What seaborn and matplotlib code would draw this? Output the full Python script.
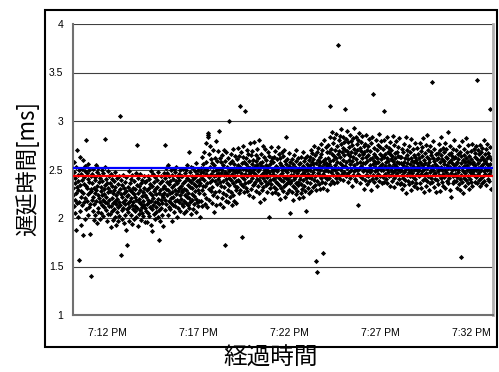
import numpy as np
import pandas as pd
import matplotlib
matplotlib.use("Agg")
import matplotlib.pyplot as plt
from matplotlib.patches import Rectangle
import seaborn as sns

# 遅延時間 (単位 0.01 ms), 1 秒ごと, 1 行 = 1 分 (19:10:05 から)
d1910 = [231, 224, 258, 212, 247, 236, 205, 219, 241, 188, 226, 253, 232, 215, 270, 244, 201, 238, 229, 157,
         216, 249, 263, 234, 207, 222, 245, 193, 228, 251, 239, 213, 260, 182, 226, 242, 217, 235, 199, 248,
         254, 221, 209, 233, 280, 246, 218, 231, 203, 256, 240, 225, 211, 237, 250, 183, 227, 214, 243, 230]
d1911 = [228, 140, 219, 245, 236, 207, 251, 222, 198, 231, 214, 242, 226, 203, 239, 255, 218, 229, 195, 247,
         233, 210, 224, 252, 206, 237, 221, 244, 199, 216, 241, 228, 205, 232, 249, 213, 224, 238, 202, 219,
         246, 230, 211, 225, 253, 281, 217, 234, 208, 240, 222, 197, 236, 215, 248, 227, 204, 231, 243, 212]
d1912 = [219, 236, 204, 228, 245, 212, 191, 233, 221, 207, 240, 226, 198, 215, 238, 209, 229, 247, 201, 218,
         232, 214, 193, 224, 241, 206, 220, 235, 211, 197, 227, 243, 216, 202, 230, 305, 213, 225, 239, 162,
         208, 222, 234, 199, 217, 244, 210, 226, 195, 231, 219, 203, 237, 214, 228, 188, 242, 209, 223, 172]
d1913 = [215, 232, 206, 224, 248, 211, 197, 229, 218, 236, 203, 221, 240, 213, 194, 227, 244, 209, 231, 216,
         225, 199, 238, 212, 230, 207, 222, 246, 201, 219, 234, 275, 210, 226, 192, 241, 217, 204, 233, 220,
         208, 229, 245, 214, 198, 236, 223, 211, 239, 205, 227, 218, 202, 243, 213, 231, 196, 224, 237, 210]
d1914 = [222, 207, 238, 214, 229, 196, 243, 219, 205, 231, 216, 240, 202, 226, 211, 235, 193, 248, 218, 224,
         209, 233, 187, 221, 245, 213, 228, 204, 237, 217, 230, 199, 242, 211, 225, 206, 239, 216, 232, 201,
         220, 247, 208, 177, 226, 214, 236, 197, 229, 219, 243, 210, 224, 203, 238, 215, 231, 192, 222, 246]
d1915 = [233, 226, 275, 219, 241, 208, 252, 230, 214, 237, 224, 246, 203, 229, 255, 218, 235, 211, 243, 226,
         209, 238, 221, 249, 215, 232, 197, 244, 227, 213, 240, 222, 251, 206, 234, 218, 247, 229, 212, 238,
         225, 253, 201, 236, 219, 242, 228, 210, 245, 231, 216, 239, 224, 207, 250, 233, 220, 243, 214, 229]
d1916 = [227, 243, 212, 236, 251, 218, 230, 205, 246, 224, 238, 215, 249, 229, 207, 241, 222, 255, 213, 234,
         226, 268, 210, 239, 221, 247, 232, 216, 253, 204, 237, 225, 243, 219, 231, 252, 209, 240, 223, 235,
         214, 248, 228, 242, 206, 233, 257, 220, 238, 217, 245, 229, 212, 250, 226, 239, 218, 234, 201, 244]
d1917 = [236, 252, 218, 247, 229, 263, 241, 212, 256, 233, 247, 225, 268, 239, 214, 251, 233, 277, 245, 221,
         258, 236, 211, 249, 286, 288, 284, 242, 230, 266, 219, 253, 237, 274, 228, 245, 261, 215, 239, 257,
         232, 248, 270, 224, 243, 206, 255, 238, 262, 227, 250, 213, 244, 279, 235, 259, 222, 246, 269, 240]
d1918 = [243, 228, 290, 251, 237, 262, 214, 246, 233, 258, 221, 249, 265, 238, 226, 255, 211, 244, 270, 232,
         172, 247, 259, 224, 240, 268, 218, 253, 236, 245, 229, 262, 216, 248, 241, 300, 234, 257, 222, 251,
         239, 266, 227, 245, 213, 259, 236, 250, 224, 271, 242, 218, 256, 233, 247, 264, 229, 252, 238, 215]
d1919 = [247, 261, 232, 255, 239, 272, 226, 250, 264, 238, 315, 253, 229, 246, 268, 235, 257, 180, 242, 263,
         233, 251, 274, 240, 227, 258, 245, 310, 236, 262, 249, 231, 256, 270, 243, 228, 253, 266, 237, 248,
         259, 224, 245, 277, 238, 252, 265, 230, 247, 256, 241, 269, 234, 250, 222, 260, 246, 278, 235, 254]
d1920 = [252, 237, 265, 244, 228, 259, 271, 240, 255, 233, 248, 262, 226, 251, 280, 239, 257, 243, 217, 254,
         236, 266, 245, 229, 258, 274, 241, 253, 232, 247, 263, 220, 249, 238, 271, 255, 234, 246, 260, 227,
         250, 242, 268, 236, 253, 201, 247, 264, 231, 256, 244, 239, 259, 273, 235, 250, 226, 262, 248, 240]
d1921 = [245, 258, 232, 263, 240, 251, 227, 269, 237, 254, 243, 230, 261, 248, 236, 273, 225, 252, 241, 266,
         234, 257, 244, 220, 262, 239, 255, 231, 268, 246, 250, 228, 264, 238, 253, 242, 270, 233, 249, 222,
         259, 241, 256, 235, 283, 247, 226, 261, 240, 252, 237, 267, 229, 254, 243, 205, 258, 236, 250, 244]
d1922 = [238, 252, 227, 261, 244, 233, 256, 219, 248, 240, 265, 231, 253, 242, 225, 259, 236, 270, 246, 228,
         250, 237, 262, 234, 256, 221, 249, 243, 181, 257, 240, 226, 263, 235, 251, 245, 230, 268, 239, 254,
         222, 247, 259, 233, 244, 262, 228, 251, 241, 207, 256, 237, 249, 264, 231, 245, 253, 226, 260, 242]
d1923 = [249, 263, 236, 255, 241, 270, 228, 258, 244, 267, 232, 256, 247, 261, 239, 274, 252, 234, 265, 243,
         156, 257, 229, 268, 251, 238, 144, 260, 246, 272, 235, 255, 244, 263, 230, 258, 249, 276, 241, 266,
         253, 237, 270, 245, 259, 231, 164, 248, 256, 280, 242, 261, 236, 273, 250, 257, 240, 268, 254, 229]
d1924 = [262, 248, 275, 256, 241, 268, 235, 315, 259, 283, 247, 271, 253, 238, 266, 289, 244, 260, 277, 251,
         236, 264, 282, 249, 270, 255, 241, 287, 262, 246, 274, 258, 237, 378, 266, 252, 280, 243, 269, 257,
         285, 240, 263, 276, 250, 292, 245, 268, 255, 239, 272, 260, 284, 247, 265, 278, 312, 254, 270, 243]
d1925 = [258, 281, 245, 269, 290, 252, 266, 237, 278, 260, 247, 273, 256, 286, 241, 264, 279, 250, 268, 233,
         275, 259, 244, 282, 263, 248, 271, 293, 255, 240, 267, 252, 284, 238, 261, 276, 249, 270, 257, 213,
         280, 245, 265, 251, 288, 236, 272, 258, 243, 269, 254, 278, 262, 241, 285, 257, 266, 248, 274, 230]
d1926 = [251, 268, 239, 276, 257, 244, 263, 286, 248, 270, 235, 259, 274, 243, 265, 252, 281, 238, 261, 247,
         269, 255, 229, 277, 250, 262, 240, 284, 256, 244, 328, 266, 237, 259, 272, 248, 264, 253, 280, 241,
         257, 270, 233, 262, 249, 275, 245, 258, 287, 252, 238, 266, 254, 273, 243, 261, 250, 279, 236, 264]
d1927 = [256, 242, 271, 249, 263, 237, 280, 310, 254, 266, 245, 258, 274, 240, 262, 251, 283, 236, 268, 247,
         259, 272, 243, 255, 266, 233, 278, 250, 261, 244, 270, 253, 238, 264, 285, 247, 259, 241, 275, 256,
         232, 267, 249, 262, 244, 279, 254, 236, 268, 258, 246, 273, 251, 264, 240, 257, 282, 248, 263, 235]
d1928 = [249, 263, 236, 257, 244, 271, 230, 255, 268, 241, 258, 247, 276, 234, 262, 250, 239, 283, 253, 226,
         265, 244, 257, 270, 238, 252, 261, 247, 274, 235, 256, 243, 268, 250, 229, 262, 281, 246, 259, 237,
         271, 254, 242, 265, 233, 258, 249, 277, 240, 263, 251, 236, 260, 245, 272, 257, 231, 266, 248, 254]
d1929 = [243, 262, 250, 277, 236, 258, 245, 269, 231, 256, 264, 248, 273, 239, 255, 282, 244, 260, 227, 251,
         267, 240, 257, 275, 246, 233, 263, 252, 286, 238, 255, 270, 243, 261, 229, 258, 247, 274, 236, 265,
         250, 241, 268, 340, 254, 237, 262, 249, 279, 245, 232, 259, 271, 246, 256, 240, 266, 253, 227, 261]
d1930 = [254, 239, 267, 248, 262, 235, 276, 251, 244, 270, 228, 258, 265, 241, 253, 284, 237, 261, 249, 272,
         245, 233, 259, 268, 242, 256, 250, 277, 231, 263, 247, 271, 238, 255, 262, 244, 289, 252, 236, 266,
         258, 241, 274, 229, 253, 267, 246, 260, 222, 257, 249, 264, 236, 271, 243, 255, 280, 238, 262, 251]
d1931 = [245, 263, 238, 256, 270, 242, 258, 231, 266, 250, 247, 261, 235, 274, 253, 240, 268, 229, 257, 264,
         160, 244, 252, 279, 237, 260, 248, 226, 265, 254, 241, 271, 233, 258, 246, 262, 282, 239, 255, 250,
         268, 236, 259, 243, 275, 252, 230, 264, 247, 257, 240, 269, 251, 237, 261, 245, 276, 233, 256, 248]
d1932 = [258, 244, 271, 250, 263, 237, 267, 255, 242, 274, 249, 261, 236, 342, 257, 245, 270, 252, 239, 266,
         247, 260, 233, 275, 254, 241, 268, 250, 263, 236, 272, 256, 243, 261, 248, 280, 238, 259, 252, 266,
         245, 271, 257, 234, 262, 249, 276, 240, 255, 267, 251, 238, 264, 245, 273, 256, 312, 248, 230, 261]

minutes = [d1910, d1911, d1912, d1913, d1914, d1915, d1916, d1917, d1918, d1919, d1920, d1921,
           d1922, d1923, d1924, d1925, d1926, d1927, d1928, d1929, d1930, d1931, d1932]

blue_level = 2.518
red_level = 2.436

tick_times = ["19:12", "19:17", "19:22", "19:27", "19:32"]
tick_labels = ["7:12 PM", "7:17 PM", "7:22 PM", "7:27 PM", "7:32 PM"]
y_ticks = [1, 1.5, 2, 2.5, 3, 3.5, 4]

delay = np.concatenate(minutes) / 100.0
times = pd.date_range("2010-01-01 19:10:05", periods=len(delay), freq="s")
df = pd.DataFrame({"時刻": times, "遅延": delay})

plt.rcParams['font.family'] = ['Liberation Sans', 'DejaVu Sans']

fig = plt.figure(figsize=(4.99, 3.72), dpi=100)
ax = fig.add_axes([73 / 499, 57 / 372, 420 / 499, 291 / 372])

for v in y_ticks[1:]:
    ax.axhline(v, color='#404040', lw=0.8, zorder=0)

sns.scatterplot(data=df, x="時刻", y="遅延", ax=ax, color='black', marker='D',
                s=7, linewidth=0, zorder=2)

ax.axhline(blue_level, color='#0000ff', lw=1.6, zorder=3)
ax.axhline(red_level, color='#ff0000', lw=1.6, zorder=3)

ax.set_ylim(1, 4)
ax.set_yticks(y_ticks)
ax.set_yticklabels([f"{v:g}" for v in y_ticks], fontsize=7.5)
ax.set_xlim(pd.Timestamp("2010-01-01 19:10:05"), pd.Timestamp("2010-01-01 19:33:10"))
ax.set_xticks([pd.Timestamp("2010-01-01 " + t) for t in tick_times])
ax.set_xticklabels(tick_labels, fontsize=7.5)
ax.tick_params(axis='both', length=0, pad=9)
ax.tick_params(axis='y', pad=7)
ax.set_xlabel("")
ax.set_ylabel("")

ax.spines['top'].set_visible(False)
ax.spines['left'].set_color('#707070')
ax.spines['left'].set_linewidth(1.5)
ax.spines['bottom'].set_color('#707070')
ax.spines['bottom'].set_linewidth(1.5)
ax.spines['right'].set_color('#b0b0b0')
ax.spines['right'].set_linewidth(2)

jp = ['Noto Sans CJK JP', 'DejaVu Sans']
fig.text(27 / 499, 1 - 168 / 372, "遅延時間[ms]", rotation=90, ha='center', va='center',
         fontsize=16, family=jp)
fig.text(271 / 499, 1 - 358 / 372, "経過時間", ha='center', va='center',
         fontsize=17, family=jp)

fig.patches.append(Rectangle((45 / 499, 25 / 372), 452 / 499, 337 / 372,
                             transform=fig.transFigure, fill=False,
                             edgecolor='black', lw=1.5))

fig.savefig("out.png", dpi=100)
